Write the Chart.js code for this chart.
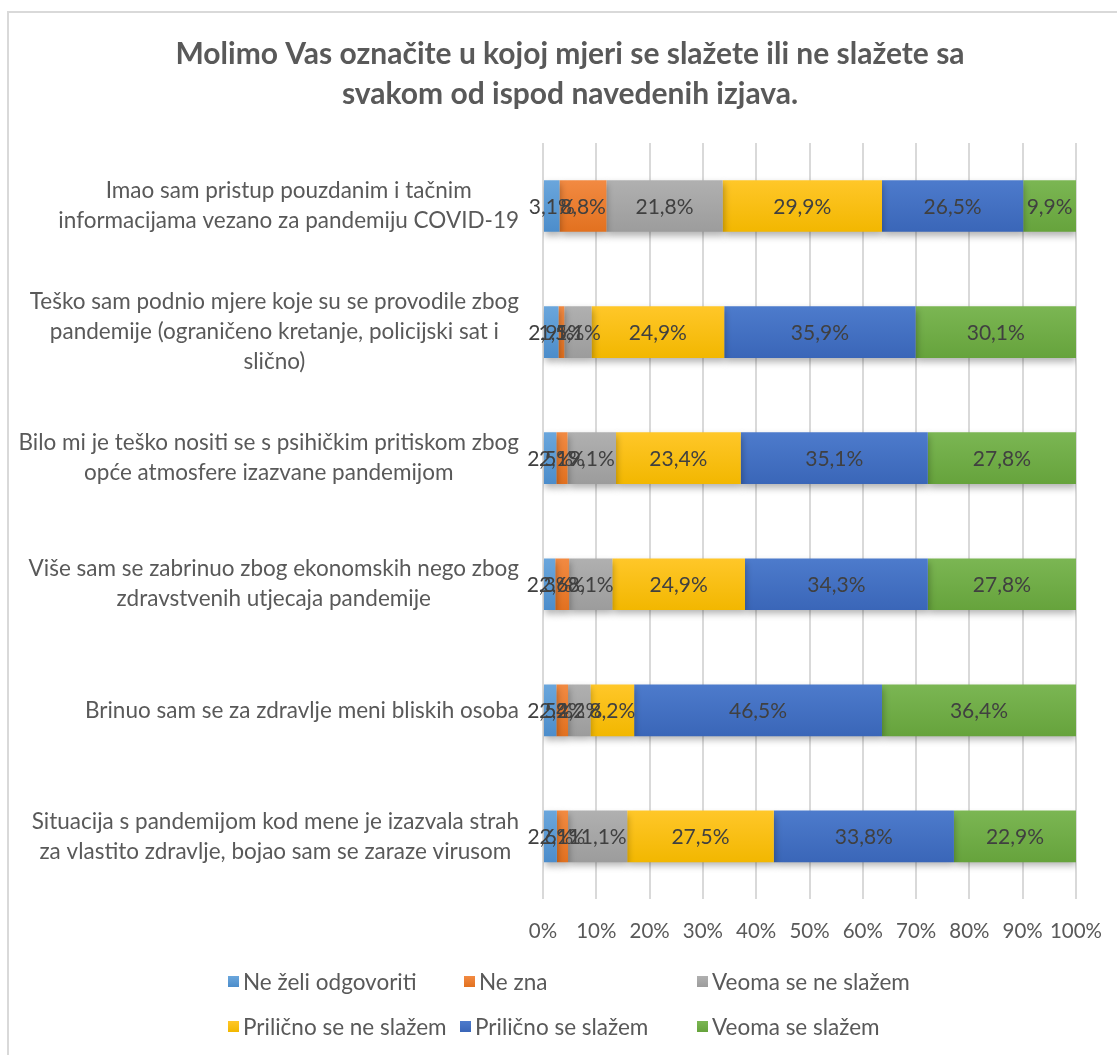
<!DOCTYPE html>
<html>
<head>
<meta charset="utf-8">
<script src="https://cdn.jsdelivr.net/npm/chart.js@4"></script>
<style>
  html, body { margin: 0; padding: 0; background: #fff; overflow: hidden; }
  #wrap { position: relative; width: 1117px; height: 1055px; }
  #frame { position: absolute; left: 7px; top: 11px; width: 1200px; height: 1200px;
           border-left: 2px solid #D9D9D9; border-top: 2px solid #D9D9D9; }
  #legend { position: absolute; left: 0; top: 0; width: 1117px; height: 1055px; pointer-events: none;
            font-family: Lato, "Open Sans", sans-serif; font-size: 22.5px; color: #595959; }
  .item { position: absolute; display: flex; align-items: center; white-space: nowrap; }
  .box { width: 11px; height: 11px; margin-right: 4px; }
</style>
</head>
<body>
<div id="wrap">
  <div id="frame"></div>
  <canvas id="surveyChart" width="1117" height="1055"></canvas>
  <div id="legend"></div>
</div>
<script>
const ctx = document.getElementById("surveyChart").getContext("2d");

const categories = [
  ["Imao sam pristup pouzdanim i tačnim", "informacijama vezano za pandemiju COVID-19"],
  ["Teško sam podnio mjere koje su se provodile zbog", "pandemije (ograničeno kretanje, policijski sat i", "slično)"],
  ["Bilo mi je teško nositi se s psihičkim pritiskom zbog", "opće atmosfere izazvane pandemijom"],
  ["Više sam se zabrinuo zbog ekonomskih nego zbog", "zdravstvenih utjecaja pandemije"],
  ["Brinuo sam se za zdravlje meni bliskih osoba"],
  ["Situacija s pandemijom kod mene je izazvala strah", "za vlastito zdravlje, bojao sam se zaraze virusom"],
];

const seriesNames = [
  "Ne želi odgovoriti",
  "Ne zna",
  "Veoma se ne slažem",
  "Prilično se ne slažem",
  "Prilično se slažem",
  "Veoma se slažem",
];

const neZeliOdgovoriti = [3.1, 2.9, 2.5, 2.3, 2.5, 2.6];
const neZna = [8.8, 1.1, 2.1, 2.6, 2.2, 2.1];
const veomaSeNeSlazem = [21.8, 5.1, 9.1, 8.1, 4.2, 11.1];
const prilicnoSeNeSlazem = [29.9, 24.9, 23.4, 24.9, 8.2, 27.5];
const prilicnoSeSlazem = [26.5, 35.9, 35.1, 34.3, 46.5, 33.8];
const veomaSeSlazem = [9.9, 30.1, 27.8, 27.8, 36.4, 22.9];

const xTickStep = 10;
const xMax = 100;

// [top, bottom] shades of each series (slight vertical gradient)
const seriesColors = [
  ["#6AA6DC", "#4C8DCB"],
  ["#F28A42", "#E2711F"],
  ["#B0B0B0", "#9C9C9C"],
  ["#FFC729", "#F2B700"],
  ["#4D7BCC", "#3A66B8"],
  ["#7BB653", "#66A33C"],
];
const seriesValues = [neZeliOdgovoriti, neZna, veomaSeNeSlazem, prilicnoSeNeSlazem, prilicnoSeSlazem, veomaSeSlazem];

const FONT = "Lato, 'Open Sans', sans-serif";
const TEXT = "#595959";
const BAR_PCT = 0.41;

function fmt(v) {
  return v.toFixed(1).replace(".", ",") + "%";
}

function barFill(i) {
  return function (context) {
    const chart = context.chart;
    const area = chart.chartArea;
    const y = chart.scales.y;
    if (context.type !== "data" || !area || !y) return seriesColors[i][1];
    const cy = y.getPixelForValue(context.dataIndex);
    const half = (area.height / categories.length) * BAR_PCT / 2;
    const g = chart.ctx.createLinearGradient(0, cy - half, 0, cy + half);
    g.addColorStop(0, seriesColors[i][0]);
    g.addColorStop(1, seriesColors[i][1]);
    return g;
  };
}

// soft drop shadow under the bars
const barShadow = {
  id: "barShadow",
  beforeDatasetsDraw(chart) {
    const c = chart.ctx;
    c.save();
    c.shadowColor = "rgba(0,0,0,0.3)";
    c.shadowBlur = 7;
    c.shadowOffsetX = 1;
    c.shadowOffsetY = 4;
  },
  afterDatasetsDraw(chart) {
    chart.ctx.restore();
  },
};

// value labels in the middle of each segment
const valueLabels = {
  id: "valueLabels",
  afterDatasetsDraw(chart) {
    const c = chart.ctx;
    c.save();
    c.font = "21px " + FONT;
    c.fillStyle = "#404040";
    c.textAlign = "center";
    c.textBaseline = "middle";
    chart.data.datasets.forEach((ds, i) => {
      chart.getDatasetMeta(i).data.forEach((bar, j) => {
        const p = bar.getCenterPoint();
        c.fillText(fmt(ds.data[j]), p.x, p.y + 1);
      });
    });
    c.restore();
  },
};

// category labels: block right-aligned, lines centred inside the block
const categoryLabels = {
  id: "categoryLabels",
  afterDraw(chart) {
    const c = chart.ctx;
    const y = chart.scales.y;
    const right = chart.chartArea.left - 24;
    const lh = 30;
    c.save();
    c.font = "22.5px " + FONT;
    c.fillStyle = TEXT;
    c.textAlign = "center";
    c.textBaseline = "middle";
    categories.forEach((lines, i) => {
      const w = Math.max(...lines.map((l) => c.measureText(l).width));
      const cx = right - w / 2;
      const cy = y.getPixelForValue(i);
      const top = cy - ((lines.length - 1) * lh) / 2;
      lines.forEach((l, k) => c.fillText(l, cx, top + k * lh));
    });
    c.restore();
  },
};

const myChart = new Chart(ctx, {
  type: "bar",
  data: {
    labels: categories,
    datasets: seriesNames.map((name, i) => ({
      label: name,
      data: seriesValues[i],
      backgroundColor: barFill(i),
      borderWidth: 0,
      categoryPercentage: 1,
      barPercentage: BAR_PCT,
    })),
  },
  options: {
    indexAxis: "y",
    responsive: false,
    animation: false,
    layout: {
      padding: { left: 64, right: 41, top: 0, bottom: 91 },
    },
    plugins: {
      legend: { display: false },
      tooltip: { enabled: false },
      title: {
        display: true,
        text: [
          "Molimo Vas označite u kojoj mjeri se slažete ili ne slažete sa",
          "svakom od ispod navedenih izjava.",
        ],
        color: TEXT,
        font: { family: FONT, size: 30, weight: "bold", lineHeight: 1.333 },
        padding: { top: 34, bottom: 29 },
      },
    },
    scales: {
      x: {
        stacked: true,
        min: 0,
        max: xMax,
        border: { display: false },
        grid: { color: "#D9D9D9", lineWidth: 2, drawTicks: false },
        ticks: {
          stepSize: xTickStep,
          padding: 20,
          maxRotation: 0,
          autoSkip: false,
          color: TEXT,
          font: { family: FONT, size: 20.5 },
          callback: function (value) {
            return value + "%";
          },
        },
        afterFit(scale) {
          // end labels may hang over the plot edges
          scale.paddingLeft = 0;
          scale.paddingRight = 0;
        },
      },
      y: {
        stacked: true,
        border: { display: false },
        grid: { display: false },
        ticks: { display: false },
        afterFit(scale) {
          scale.width = 479;
        },
      },
    },
  },
  plugins: [barShadow, valueLabels, categoryLabels],
});

// legend laid out in two rows like the original report
const legendSpots = [
  [228, 982], [464, 982], [697, 982],
  [228, 1027], [460, 1027], [697, 1027],
];
const legendEl = document.getElementById("legend");
myChart.data.datasets.forEach((ds, i) => {
  const item = document.createElement("div");
  item.className = "item";
  item.style.left = legendSpots[i][0] + "px";
  item.style.top = legendSpots[i][1] - 14 + "px";
  item.innerHTML =
    '<span class="box" style="background:linear-gradient(' + seriesColors[i][0] + "," + seriesColors[i][1] +
    ')"></span>' + ds.label;
  legendEl.appendChild(item);
});
</script>
</body>
</html>
